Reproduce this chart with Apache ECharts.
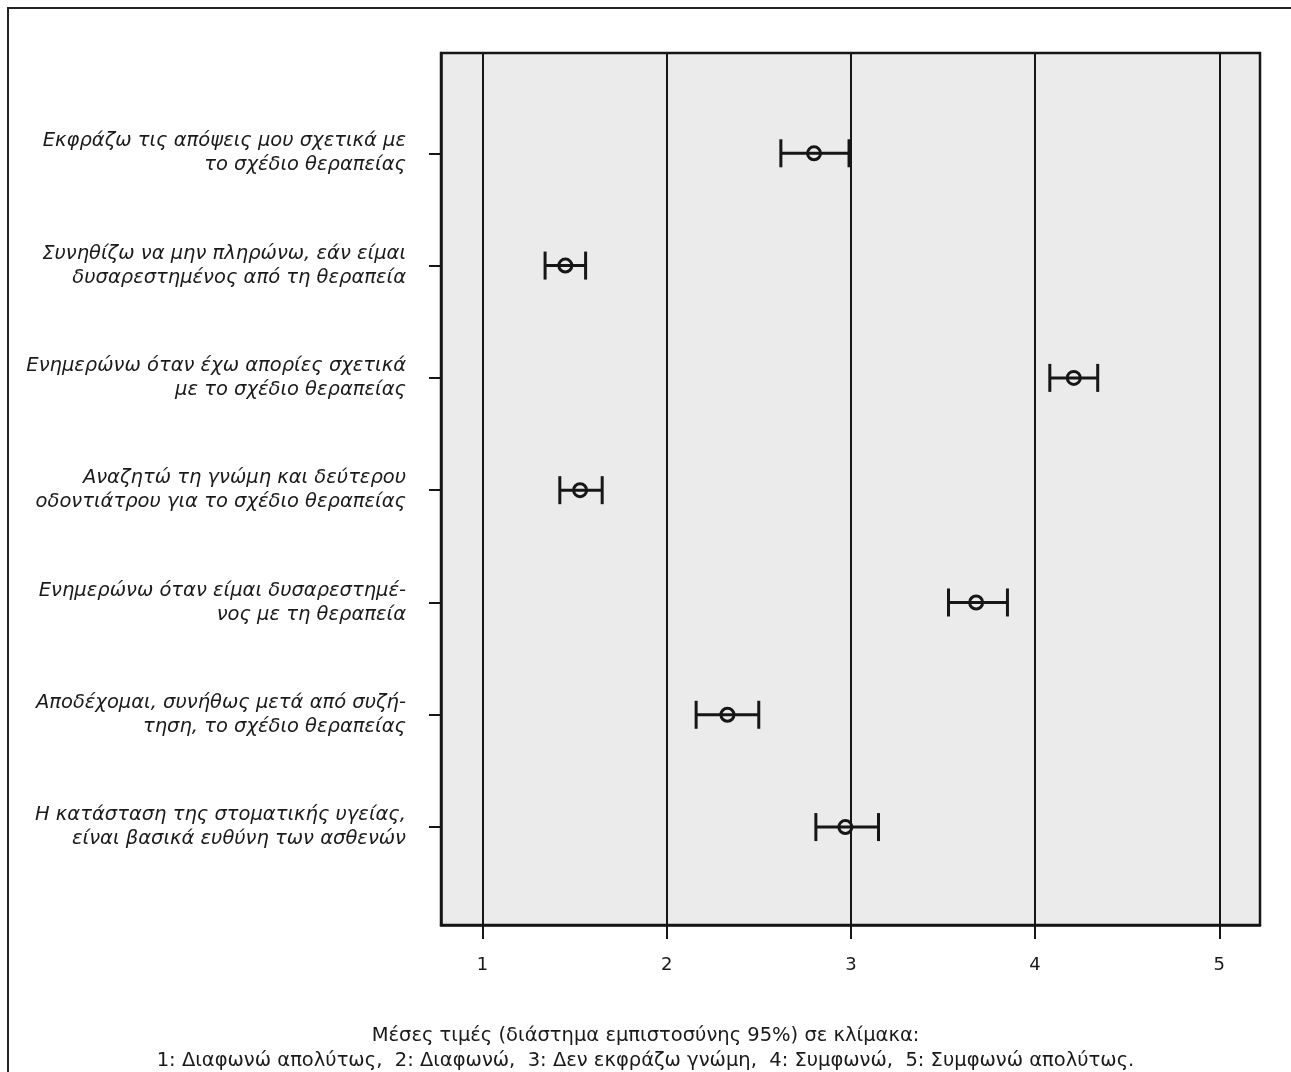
<!DOCTYPE html>
<html>
<head>
<meta charset="utf-8">
<script src="https://cdn.jsdelivr.net/npm/echarts@6/dist/echarts.min.js"></script>
<style>
  html, body { margin: 0; padding: 0; background: #ffffff; }
  #chart { width: 1291px; height: 1072px; }
</style>
</head>
<body>
<div id="chart"></div>
<script>
// Statements (top to bottom)
const statements = [
  'Εκφράζω τις απόψεις μου σχετικά με\nτο σχέδιο θεραπείας',
  'Συνηθίζω να μην πληρώνω, εάν είμαι\nδυσαρεστημένος από τη θεραπεία',
  'Ενημερώνω όταν έχω απορίες σχετικά\nμε το σχέδιο θεραπείας',
  'Αναζητώ τη γνώμη και δεύτερου\nοδοντιάτρου για το σχέδιο θεραπείας',
  'Ενημερώνω όταν είμαι δυσαρεστημέ-\nνος με τη θεραπεία',
  'Αποδέχομαι, συνήθως μετά από συζή-\nτηση, το σχέδιο θεραπείας',
  'Η κατάσταση της στοματικής υγείας,\nείναι βασικά ευθύνη των ασθενών'
];

// Mean scores with 95% confidence interval bounds
const means = [2.80, 1.45, 4.21, 1.53, 3.68, 2.33, 2.97];
const lowerCI = [2.62, 1.34, 4.08, 1.42, 3.53, 2.16, 2.81];
const upperCI = [2.99, 1.56, 4.34, 1.65, 3.85, 2.50, 3.15];

// Scale ticks
const scaleTicks = [1, 2, 3, 4, 5];
const rowPositions = [1, 2, 3, 4, 5, 6, 7];

const captionLines = [
  'Μέσες τιμές (διάστημα εμπιστοσύνης 95%) σε κλίμακα:',
  '1: Διαφωνώ απολύτως,  2: Διαφωνώ,  3: Δεν εκφράζω γνώμη,  4: Συμφωνώ,  5: Συμφωνώ απολύτως.'
];

const ink = '#161616';

const seriesData = means.map((m, i) => [m, rowPositions[i], lowerCI[i], upperCI[i]]);

const chart = echarts.init(document.getElementById('chart'), null, { renderer: 'canvas' });

chart.setOption({
  backgroundColor: '#ffffff',
  animation: false,
  title: {
    text: captionLines.join('\n'),
    left: 'center',
    top: 1018,
    textStyle: {
      fontFamily: 'DejaVu Sans',
      fontWeight: 'normal',
      fontSize: 19.5,
      lineHeight: 25,
      color: '#1a1a1a',
      align: 'center'
    }
  },
  graphic: [
    {
      type: 'polyline',
      shape: { points: [[8, 1080], [8, 8], [1300, 8]] },
      style: { stroke: '#222', lineWidth: 2, fill: null },
      silent: true
    }
  ],
  grid: {
    left: 441,
    right: 31,
    top: 53,
    bottom: 147,
    show: true,
    backgroundColor: '#ebebeb',
    borderColor: ink,
    borderWidth: 2.5
  },
  xAxis: {
    type: 'value',
    min: 0.775,
    max: 5.221,
    axisLine: { show: true, onZero: false, lineStyle: { color: ink, width: 2.5 } },
    axisTick: {
      show: true,
      length: 14,
      customValues: scaleTicks,
      lineStyle: { color: ink, width: 2 }
    },
    axisLabel: {
      customValues: scaleTicks,
      margin: 31,
      fontFamily: 'DejaVu Sans',
      fontSize: 18,
      color: '#1a1a1a'
    },
    splitLine: {
      show: true,
      lineStyle: { color: ink, width: 2 }
    }
  },
  yAxis: {
    type: 'value',
    inverse: true,
    min: 0.107,
    max: 7.872,
    axisLine: { show: true, onZero: false, lineStyle: { color: ink, width: 2.5 } },
    axisTick: {
      show: true,
      length: 12,
      customValues: rowPositions,
      lineStyle: { color: ink, width: 2 }
    },
    axisLabel: {
      customValues: rowPositions,
      margin: 35,
      fontFamily: 'DejaVu Sans',
      fontStyle: 'italic',
      fontSize: 19.5,
      lineHeight: 24,
      color: '#1a1a1a',
      align: 'right',
      formatter: (v) => statements[Math.round(v) - 1] || ''
    },
    splitLine: { show: false }
  },
  series: [
    {
      type: 'custom',
      data: seriesData,
      encode: { x: [0, 2, 3], y: 1 },
      renderItem: function (params, api) {
        const row = api.value(1);
        const c = api.coord([api.value(0), row]);
        const lo = api.coord([api.value(2), row]);
        const hi = api.coord([api.value(3), row]);
        const cap = 14;
        const st = { stroke: ink, lineWidth: 3, fill: null };
        return {
          type: 'group',
          children: [
            { type: 'line', shape: { x1: lo[0], y1: lo[1], x2: hi[0], y2: hi[1] }, style: st },
            { type: 'line', shape: { x1: lo[0], y1: lo[1] - cap, x2: lo[0], y2: lo[1] + cap }, style: st },
            { type: 'line', shape: { x1: hi[0], y1: hi[1] - cap, x2: hi[0], y2: hi[1] + cap }, style: st },
            { type: 'circle', shape: { cx: c[0], cy: c[1], r: 6.5 }, style: st }
          ]
        };
      },
      z: 5
    }
  ]
});
</script>
</body>
</html>
